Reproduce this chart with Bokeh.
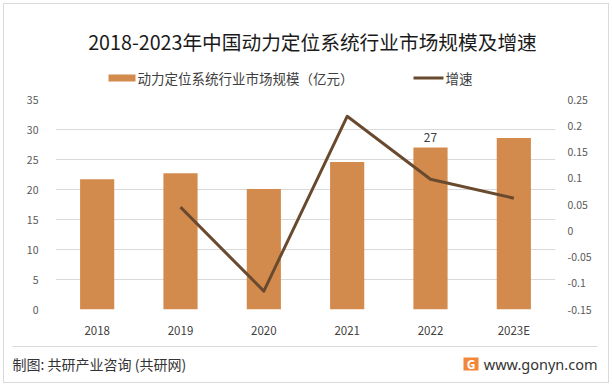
from bokeh.plotting import figure
from bokeh.layouts import column
from bokeh.models import (Range1d, LinearAxis, FixedTicker, CustomJSTickFormatter,
                          Label, LabelSet, ColumnDataSource, BoxAnnotation, FactorRange)
from bokeh.core.properties import value
from bokeh.embed import file_html
from bokeh.resources import INLINE

# ---- data ----
years = ["2018", "2019", "2020", "2021", "2022", "2023E"]
market_size = [21.7, 22.7, 20.1, 24.6, 27.0, 28.6]
growth_years = ["2019", "2020", "2021", "2022", "2023E"]
growth_rate = [0.045, -0.115, 0.218, 0.098, 0.062]
left_ticks = [0, 5, 10, 15, 20, 25, 30, 35]
right_ticks = [-0.15, -0.1, -0.05, 0, 0.05, 0.1, 0.15, 0.2, 0.25]
label_years = ["2022"]
label_values = [27]
label_texts = ["27"]

title_text = "2018-2023年中国动力定位系统行业市场规模及增速"
bar_name = "动力定位系统行业市场规模（亿元）"
line_name = "增速"
source_text = "制图: 共研产业咨询 (共研网)"
site_text = "www.gonyn.com"

CJK = "Noto Sans CJK SC"
BAR_COLOR = "#D38B4D"
LINE_COLOR = "#6A4A2F"
W = 612
HEAD_H, CHART_H, FOOT_H = 92, 248, 46


def blank(h):
    f = figure(width=W, height=h, x_range=Range1d(0, W), y_range=Range1d(h, 0),
               x_axis_type=None, y_axis_type=None, output_backend="svg",
               toolbar_location=None, title=None, min_border=0, frame_align=False)
    f.outline_line_color = None
    f.xgrid.visible = False
    f.ygrid.visible = False
    f.background_fill_alpha = 0
    f.border_fill_alpha = 0
    return f


# ---- header: title + legend (page pixel coordinates) ----
head = blank(HEAD_H)
head.add_layout(Label(x=312, y=41, text=title_text, text_align="center", text_baseline="middle",
                      text_font=CJK, text_font_size="19.7px", text_color="#1a1a1a"))
head.add_layout(BoxAnnotation(left=108, right=135, top=74, bottom=81,
                              fill_color=BAR_COLOR, fill_alpha=1, line_color=None))
head.add_layout(Label(x=137, y=77.5, text=bar_name, text_align="left", text_baseline="middle",
                      text_font=CJK, text_font_size="13.5px", text_color="#404040"))
head.add_layout(BoxAnnotation(left=413, right=443, top=76, bottom=79,
                              fill_color=LINE_COLOR, fill_alpha=1, line_color=None))
head.add_layout(Label(x=445, y=77.5, text=line_name, text_align="left", text_baseline="middle",
                      text_font=CJK, text_font_size="13.5px", text_color="#404040"))

# ---- chart ----
p = figure(width=W, height=CHART_H, x_range=FactorRange(*years), y_range=Range1d(0, 35),
           output_backend="svg", toolbar_location=None, title=None, frame_align=False,
           min_border_left=55, min_border_right=57, min_border_top=7, min_border_bottom=28)
p.outline_line_color = None
p.background_fill_alpha = 0
p.border_fill_alpha = 0
p.xgrid.grid_line_color = None
p.ygrid.grid_line_color = "#D9D9D9"
p.ygrid.grid_line_width = 1
p.x_range.range_padding = 0
p.extra_y_ranges = {"growth": Range1d(-0.15, 0.25)}

rax = LinearAxis(y_range_name="growth", ticker=FixedTicker(ticks=right_ticks),
                 formatter=CustomJSTickFormatter(code="return String(parseFloat(tick.toFixed(2)));"))
p.add_layout(rax, "right")
p.yaxis[0].ticker = FixedTicker(ticks=left_ticks)

for ax in [p.yaxis[0], p.xaxis[0], rax]:
    ax.axis_line_color = None
    ax.major_tick_line_color = None
    ax.minor_tick_line_color = None
    ax.major_tick_out = 0
    ax.major_tick_in = 0
    ax.minor_tick_out = 0
    ax.minor_tick_in = 0
    ax.major_label_text_font = CJK
    ax.major_label_text_font_size = "10.5px"
    ax.major_label_text_color = "#595959"
p.yaxis[0].major_label_standoff = 17
rax.major_label_standoff = 12
p.xaxis.major_label_text_font_size = "11.5px"
p.xaxis.major_label_text_color = "#404040"
p.xaxis.major_label_standoff = 12

src = ColumnDataSource(dict(year=years, size=market_size))
bars = p.vbar(x="year", top="size", width=0.41, source=src, fill_color=BAR_COLOR, line_color=None)

gsrc = ColumnDataSource(dict(year=growth_years, rate=growth_rate))
line = p.line(x="year", y="rate", source=gsrc, y_range_name="growth",
              line_color=LINE_COLOR, line_width=3, line_join="round")

lsrc = ColumnDataSource(dict(year=label_years, val=label_values, txt=label_texts))
p.add_layout(LabelSet(x="year", y="val", text="txt", source=lsrc, y_offset=6,
                      text_align="center", text_baseline="bottom",
                      text_font=value(CJK), text_font_size=value("12px"), text_color="#404040"))

# ---- footer (page pixel coordinates, offset by header+chart heights) ----
foot = blank(FOOT_H)
foot.add_layout(BoxAnnotation(left=12, right=597, top=5.5, bottom=6.5,
                              fill_color="#D9D9D9", fill_alpha=1, line_color=None))
foot.add_layout(Label(x=12, y=23, text=source_text, text_align="left", text_baseline="middle",
                      text_font=CJK, text_font_size="14px", text_color="#333333"))
foot.add_layout(BoxAnnotation(left=463, right=478, top=17, bottom=30,
                              fill_color="#F2873A", fill_alpha=1, line_color=None))
foot.add_layout(Label(x=470.5, y=23.5, text="G", text_align="center", text_baseline="middle",
                      text_font="Noto Sans", text_font_style="bold", text_font_size="12px",
                      text_color="white"))
foot.add_layout(Label(x=597, y=23, text=site_text, text_align="right", text_baseline="middle",
                      text_font="Noto Sans", text_font_size="14.5px", text_color="#333333"))

layout = column(head, p, foot, spacing=0,
                styles={"outline": "1px solid #D9D9D9", "outline-offset": "-4px"})

open("out.html", "w").write(file_html(layout, INLINE))
